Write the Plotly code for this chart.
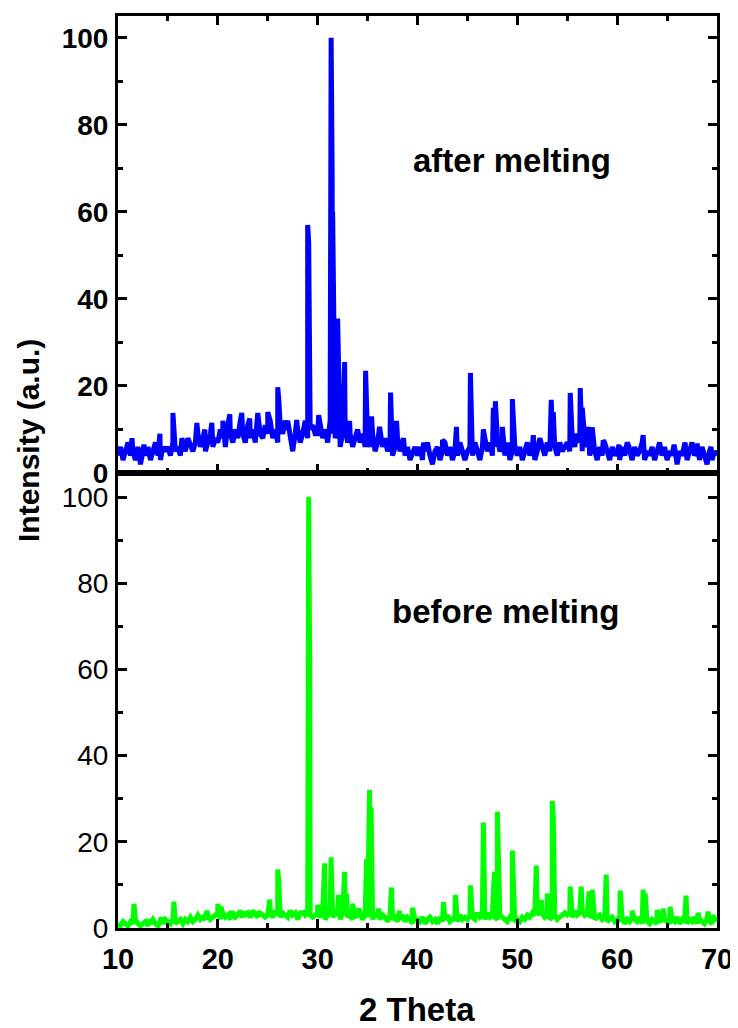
import plotly.graph_objects as go

# ---------------- data ----------------
theta_start = 10.0
theta_step = 0.25

# background (grid every 0.25 deg from 10 to 70)
after_base = [
    4, 6, 3, 5, 7, 4, 5, 3, 6, 2, 5, 4, 6, 3, 5, 7, 4, 3, 6, 5,
    6, 4, 7, 5, 6, 4, 7, 5, 8, 6, 5, 7, 9, 6, 8, 5, 7, 9, 6, 8,
    7, 10, 8, 6, 11, 9, 7, 10, 8, 12, 9, 7, 11, 8, 10, 7, 12, 9, 8, 11,
    9, 12, 8, 10, 7, 11, 9, 12, 10, 8, 5, 9, 10, 7, 9, 12, 8, 10, 11, 9,
    9, 11, 8, 10, 7, 12, 9, 8, 10, 6, 9, 11, 7, 9, 6, 8, 10, 7, 9, 6,
    8, 6, 9, 5, 7, 10, 6, 8, 5, 7, 4, 6, 8, 5, 7, 4, 6, 3, 5, 6,
    4, 6, 3, 5, 7, 4, 2, 5, 6, 3, 5, 7, 4, 6, 3, 5, 4, 7, 5, 3,
    5, 6, 4, 7, 5, 3, 6, 8, 5, 7, 4, 6, 8, 5, 6, 4, 7, 3, 5, 6,
    4, 6, 3, 5, 7, 4, 6, 3, 5, 8, 6, 4, 7, 5, 9, 6, 4, 7, 5, 6,
    7, 5, 8, 6, 9, 7, 5, 8, 6, 4, 7, 5, 3, 6, 4, 7, 5, 3, 6, 4,
    5, 3, 6, 4, 7, 5, 3, 6, 4, 5, 7, 3, 5, 4, 6, 3, 5, 7, 4, 6,
    3, 5, 4, 6, 2, 5, 4, 6, 3, 5, 7, 4, 5, 3, 6, 4, 2, 5, 3, 5,
    4,
]
after_peak_theta = [
    11.4, 12.6, 14.2, 15.5, 16.4, 17.9, 18.7, 19.4, 20.5, 21.2, 22.4, 23.2,
    24.0, 25.0, 26.0, 26.1, 27.0, 27.9, 29.0, 29.1, 30.1, 31.35, 31.45, 31.5,
    32.0, 32.7, 33.2, 34.8, 35.4, 36.2, 37.3, 37.9, 38.6, 40.6, 42.5, 43.9,
    45.3, 46.6, 47.6, 47.8, 48.5, 49.5, 51.6, 52.2, 53.4, 53.6, 55.3, 56.3,
    56.5, 57.1, 57.5, 58.6, 60.2, 61.2, 62.6, 64.2, 65.7, 66.8, 68.0, 69.4,
]
after_peak_int = [
    8, 6.5, 9, 13.8, 8, 11.5, 10, 11.5, 12, 13.5, 13.8, 12.5,
    13.8, 14, 19.7, 17, 12, 12.2, 57, 53, 13.3, 100, 69, 60,
    35.5, 25.5, 12, 23.5, 13, 10.6, 18.5, 12, 8, 7, 7.6, 10.6,
    23, 10, 15, 16.5, 10.6, 17, 8.7, 8, 16.8, 14, 18.4, 19.5,
    15, 10.6, 10.5, 7.5, 6.5, 6, 8.7, 6.5, 6.5, 7, 6.8, 6,
]

before_base = [
    1, 0.5, 1.5, 1, 0.5, 1.5, 1, 2, 1, 0.5, 1, 1.5, 0.5, 1, 2, 1, 0.5, 1.5, 1, 2,
    1.5, 1, 2, 1, 1.5, 2, 1, 2, 1.5, 2.5, 1.5, 2, 3, 2, 2.5, 2, 3, 2, 2.5, 3,
    3, 2, 3.5, 2.5, 3, 2, 3.5, 2.5, 3, 4, 2.5, 3, 3.5, 2.5, 4, 3, 2.5, 3.5, 3, 2.5,
    3, 3.5, 2.5, 4, 3, 2.5, 3.5, 3, 2.5, 4, 3, 3.5, 2, 3.5, 4, 3, 3.5, 3, 2.5, 3,
    3, 2.5, 3.5, 2, 3, 4, 2.5, 3.5, 3, 2, 3.5, 3, 2.5, 3, 2, 3, 2.5, 3.5, 2, 3,
    2.5, 3, 2, 3.5, 2.5, 2, 3, 2.5, 1.5, 3, 2, 2.5, 1.5, 2, 3, 1.5, 2.5, 2, 1, 2,
    2, 1.5, 2.5, 1, 2, 2.5, 1.5, 2, 1, 2.5, 1.5, 2, 3, 1.5, 2, 2.5, 1.5, 3, 2, 2.5,
    2, 3, 2.5, 2, 3.5, 2.5, 3, 2, 3.5, 2.5, 3, 2.5, 2, 3, 2.5, 2, 1.5, 2.5, 2, 1.5,
    2, 1.5, 2.5, 2, 3, 2.5, 3.5, 3, 4, 3, 3.5, 2.5, 3, 2, 2.5, 3, 2, 2.5, 3, 3.5,
    3, 3.5, 2.5, 4, 3, 3.5, 4, 3, 3.5, 2.5, 3, 2, 2.5, 3, 2, 2.5, 1.5, 2, 2.5, 1.5,
    2, 1.5, 2.5, 1, 2, 1.5, 2.5, 2, 1.5, 2.5, 1, 2, 1.5, 1, 2, 1.5, 1, 2, 1.5, 2,
    1.5, 1, 2, 1.5, 2.5, 1, 2, 1.5, 1, 2, 1.5, 2.5, 1, 2, 1.5, 1, 2, 1.5, 1, 2,
    2,
]
before_peak_theta = [
    11.6, 13.2, 14.3, 15.6, 18.9, 20.0, 20.3, 21.3, 22.7, 24.1, 25.2, 26.0,
    26.1, 27.4, 28.5, 29.1, 29.2, 30.0, 30.7, 31.35, 32.1, 32.7, 32.9, 33.5,
    34.1, 34.9, 35.2, 35.35, 36.1, 37.4, 38.2, 39.5, 42.6, 43.8, 45.3, 46.6,
    47.7, 48.0, 49.5, 51.9, 52.4, 53.0, 53.5, 53.6, 55.3, 56.4, 57.2, 57.5,
    58.9, 60.3, 61.5, 62.6, 62.8, 64.0, 64.6, 65.3, 66.9, 68.1, 69.1, 69.6,
]
before_peak_int = [
    5.6, 2, 2.5, 6.1, 4, 5.6, 5, 3.5, 3.8, 3.5, 6.6, 13.6,
    11, 3.5, 3.5, 100, 60, 5.4, 15, 16.4, 7.7, 13, 8, 5.6,
    4.5, 16, 32, 28, 4.5, 9.4, 4, 4.7, 6, 7.7, 9.9, 24.5,
    13, 27, 18, 14.5, 6.5, 8, 29.5, 26, 9.6, 9.6, 8.5, 8.9,
    12.4, 8.7, 4, 8.9, 8, 4.2, 4.5, 4.9, 7.5, 3.5, 3.8, 3,
]

x_tickvals = [10, 20, 30, 40, 50, 60, 70]
y_tickvals = [0, 20, 40, 60, 80, 100]


def merge(base, ptheta, pint):
    grid = [theta_start + theta_step * i for i in range(len(base))]
    pts = sorted(list(zip(grid, base)) + list(zip(ptheta, pint)))
    return [p[0] for p in pts], [p[1] for p in pts]


xa, ya = merge(after_base, after_peak_theta, after_peak_int)
xb, yb = merge(before_base, before_peak_theta, before_peak_int)

FONT = "Arial, 'Liberation Sans', sans-serif"

fig = go.Figure()
fig.add_trace(go.Scatter(x=xa, y=ya, mode="lines", xaxis="x", yaxis="y",
                         line=dict(color="#0000FF", width=5), showlegend=False))
fig.add_trace(go.Scatter(x=xb, y=yb, mode="lines", xaxis="x2", yaxis="y2",
                         line=dict(color="#00FF00", width=5), showlegend=False))

# page body has an 8px margin: figure is sized/placed to compensate
OFF = 8
FIG_W, FIG_H = 730, 1020
PL, PR, PT, PB = 118, 717, 16, 928          # plot area in page pixels
split = (PB - 473) / (PB - PT)

common_x = dict(range=[10, 70], showgrid=False, zeroline=False, showline=True,
                linecolor="black", linewidth=3, ticks="inside", ticklen=9,
                tickwidth=3, tickcolor="black", tickvals=x_tickvals,
                minor=dict(ticks="inside", ticklen=5, tickwidth=3,
                           tickcolor="black", dtick=5, tick0=5))
common_y = dict(showgrid=False, zeroline=False, showline=True, linecolor="black",
                linewidth=3, ticks="inside", ticklen=9, tickwidth=3,
                tickcolor="black", tickvals=y_tickvals, mirror="allticks",
                ticklabelstandoff=1,
                minor=dict(ticks="inside", ticklen=5, tickwidth=3,
                           tickcolor="black", dtick=10, tick0=10))

fig.update_layout(
    width=FIG_W, height=FIG_H,
    margin=dict(l=PL - OFF, r=FIG_W - (PR - OFF), t=PT - OFF, b=FIG_H - (PB - OFF),
                autoexpand=False),
    paper_bgcolor="white", plot_bgcolor="white",
    xaxis=dict(**common_x, anchor="y", mirror="allticks", showticklabels=False),
    yaxis=dict(**common_y, anchor="x", domain=[split, 1], range=[0, 105],
               tickfont=dict(family=FONT, size=28, color="black", weight="bold")),
    xaxis2=dict(**common_x, anchor="y2", mirror=True, showticklabels=True,
                ticklabelstandoff=3,
                tickfont=dict(family=FONT, size=29, color="black", weight="bold")),
    yaxis2=dict(**common_y, anchor="x2", domain=[0, split], range=[0, 105.6],
                tickfont=dict(family=FONT, size=28, color="black")),
)


def px_to_paper(px, py):
    return (px - PL) / (PR - PL), (PB - py) / (PB - PT)


ann = []
x0, y0 = px_to_paper(512, 161)
ann.append(dict(text="after melting", x=x0, y=y0, xref="paper", yref="paper",
                showarrow=False, xanchor="center", yanchor="middle",
                font=dict(family=FONT, size=33, color="black", weight="bold")))
x0, y0 = px_to_paper(505, 612)
ann.append(dict(text="before melting", x=x0, y=y0, xref="paper", yref="paper",
                showarrow=False, xanchor="center", yanchor="middle",
                font=dict(family=FONT, size=33, color="black", weight="bold")))
x0, y0 = px_to_paper(28, 441)
ann.append(dict(text="Intensity (a.u.)", x=x0, y=y0, xref="paper", yref="paper",
                showarrow=False, xanchor="center", yanchor="middle", textangle=-90,
                font=dict(family=FONT, size=30, color="black", weight="bold")))
x0, y0 = px_to_paper(417, 1009)
ann.append(dict(text="2 Theta", x=x0, y=y0, xref="paper", yref="paper",
                showarrow=False, xanchor="center", yanchor="middle",
                font=dict(family=FONT, size=33, color="black", weight="bold")))
fig.update_layout(annotations=ann)

fig.write_html("out.html")
